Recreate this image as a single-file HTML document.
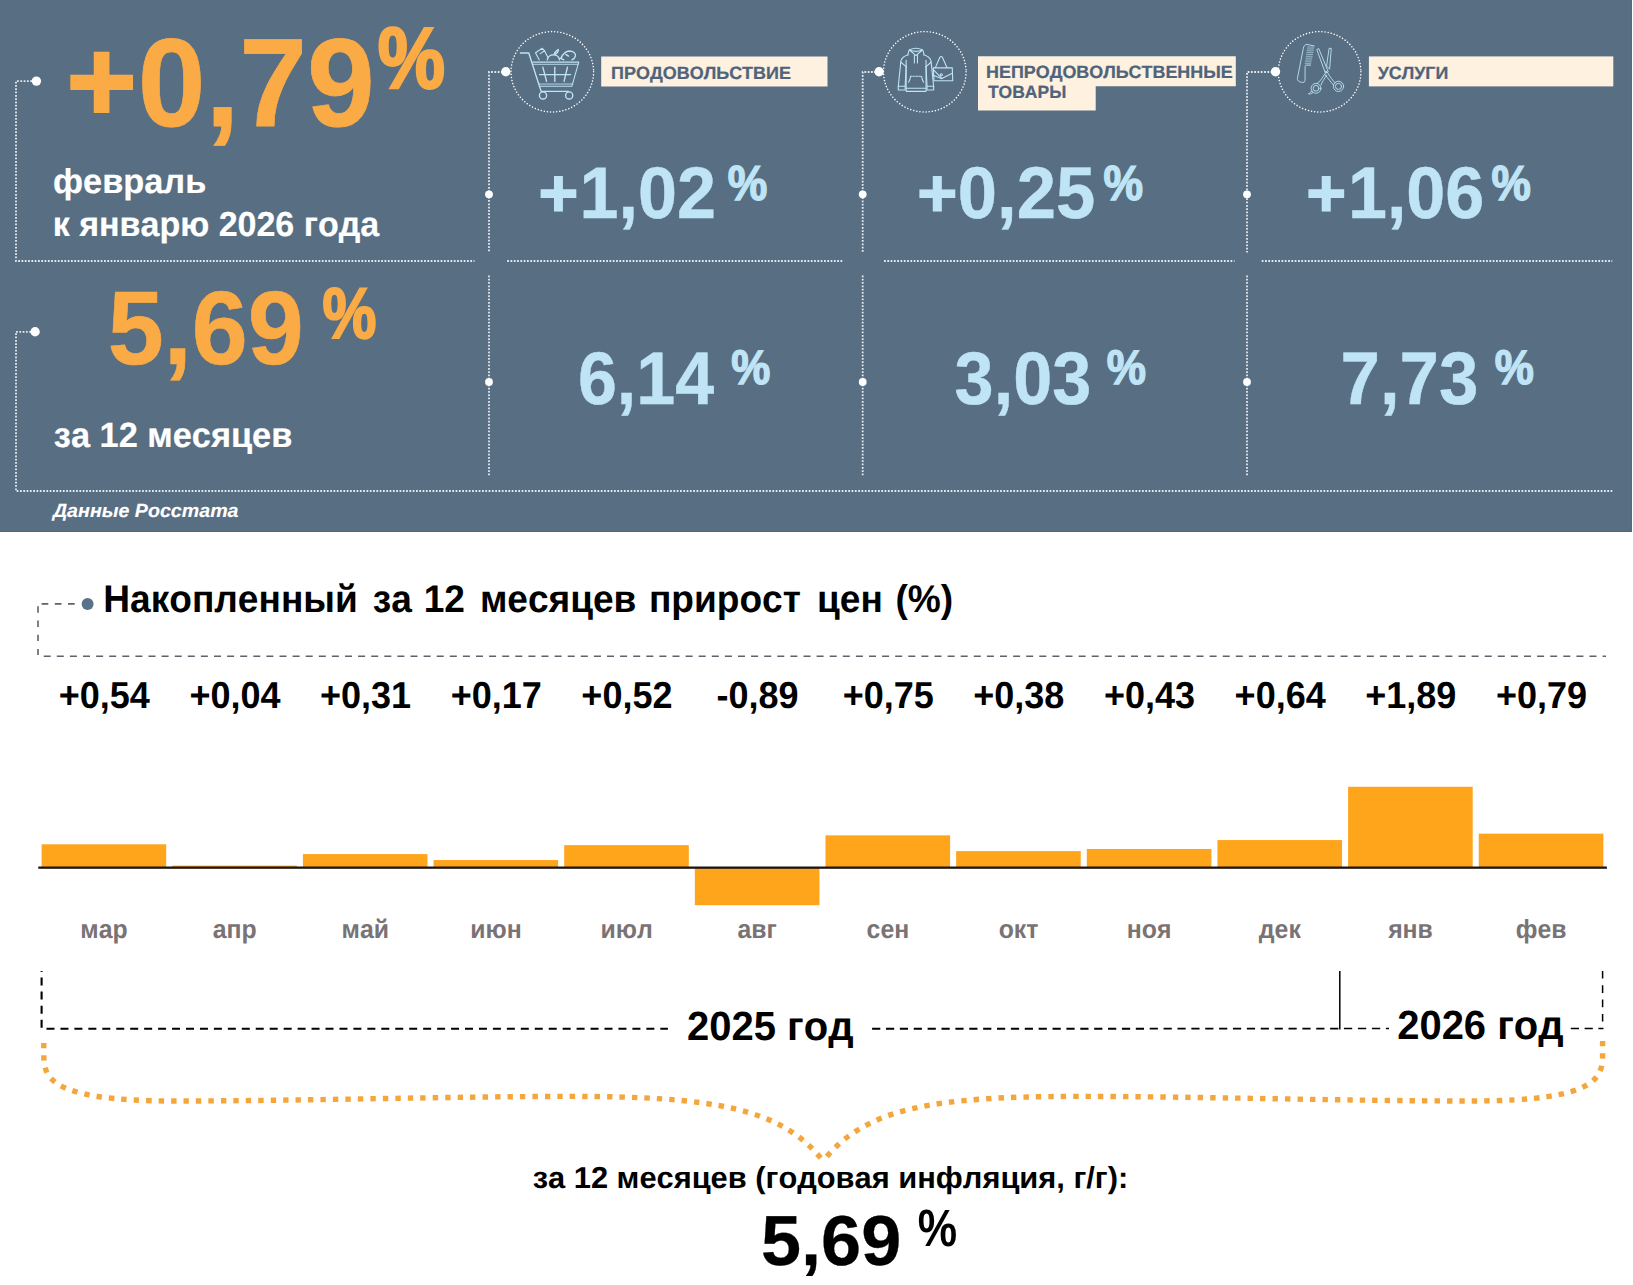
<!DOCTYPE html>
<html lang="ru">
<head>
<meta charset="utf-8">
<title>Инфляция</title>
<style>
*{margin:0;padding:0;box-sizing:border-box}
html,body{width:1633px;height:1285px;background:#fff;overflow:hidden}
body{position:relative}
#top{position:absolute;left:0;top:0;width:1632px;height:532px;background:#576e83;border-bottom:1px solid #536378;border-right:1px solid #56687d}
svg{position:absolute;left:0;top:0}
text{font-family:"Liberation Sans",Arial,sans-serif;font-weight:bold;white-space:pre;text-rendering:geometricPrecision;font-kerning:none}
</style>
</head>
<body>
<div id="top"></div>
<svg width="1633" height="1285" viewBox="0 0 1633 1285" fill="none">
<polyline points="32,81.2 16,81.2 16,261 474.5,261" stroke="#e4ecf3" stroke-width="1.8" stroke-dasharray="1.75 1.55"/>
<circle cx="36.4" cy="81.1" r="4.7" fill="#fff"/>
<polyline points="31,331.8 16,331.8 16,491 1612.3,491" stroke="#e4ecf3" stroke-width="1.8" stroke-dasharray="1.75 1.55"/>
<circle cx="35.1" cy="331.8" r="4.7" fill="#fff"/>
<polyline points="502.8,72 489,72 489,252.5" stroke="#e4ecf3" stroke-width="1.8" stroke-dasharray="1.75 1.55"/>
<polyline points="489,275.5 489,476.5" stroke="#e4ecf3" stroke-width="1.8" stroke-dasharray="1.75 1.55"/>
<circle cx="505.8" cy="71.8" r="4.7" fill="#fff"/>
<circle cx="489" cy="194.3" r="3.9" fill="#fff"/>
<circle cx="489" cy="382" r="3.9" fill="#fff"/>
<ellipse cx="552.3" cy="71.8" rx="41.3" ry="40.2" stroke="#fff" stroke-width="1.55" stroke-dasharray="0.01 3.12" stroke-linecap="round"/>
<polyline points="876.1,72 862.7,72 862.7,252.5" stroke="#e4ecf3" stroke-width="1.8" stroke-dasharray="1.75 1.55"/>
<polyline points="862.7,275.5 862.7,476.5" stroke="#e4ecf3" stroke-width="1.8" stroke-dasharray="1.75 1.55"/>
<circle cx="879.1" cy="71.8" r="4.7" fill="#fff"/>
<circle cx="862.7" cy="194.3" r="3.9" fill="#fff"/>
<circle cx="862.7" cy="382" r="3.9" fill="#fff"/>
<ellipse cx="924.8" cy="71.8" rx="41.3" ry="40.2" stroke="#fff" stroke-width="1.55" stroke-dasharray="0.01 3.12" stroke-linecap="round"/>
<polyline points="1272.5,72 1247,72 1247,252.5" stroke="#e4ecf3" stroke-width="1.8" stroke-dasharray="1.75 1.55"/>
<polyline points="1247,275.5 1247,476.5" stroke="#e4ecf3" stroke-width="1.8" stroke-dasharray="1.75 1.55"/>
<circle cx="1275.5" cy="71.8" r="4.7" fill="#fff"/>
<circle cx="1247" cy="194.3" r="3.9" fill="#fff"/>
<circle cx="1247" cy="382" r="3.9" fill="#fff"/>
<ellipse cx="1319.6" cy="71.8" rx="41.3" ry="40.2" stroke="#fff" stroke-width="1.55" stroke-dasharray="0.01 3.12" stroke-linecap="round"/>
<polyline points="507.2,261 843,261" stroke="#e4ecf3" stroke-width="1.8" stroke-dasharray="1.75 1.55"/>
<polyline points="884,261 1234.5,261" stroke="#e4ecf3" stroke-width="1.8" stroke-dasharray="1.75 1.55"/>
<polyline points="1261.7,261 1612.3,261" stroke="#e4ecf3" stroke-width="1.8" stroke-dasharray="1.75 1.55"/>
<rect x="601.2" y="56.5" width="226.3" height="30" fill="#fef1e0"/>
<path d="M978 56.2H1235.8V86.3H1095.7V110.5H978Z" fill="#fef1e0"/>
<rect x="1368.9" y="56.4" width="244.4" height="30" fill="#fef1e0"/>
<polyline points="41.6,603.9 75,603.9" stroke="#5d636b" stroke-width="1.6" stroke-dasharray="6.7 6.5"/>
<polyline points="38,606.3 38,655" stroke="#5d636b" stroke-width="1.6" stroke-dasharray="6.4 7.8"/>
<polyline points="43.7,656.2 1606,656.2" stroke="#5d636b" stroke-width="1.6" stroke-dasharray="7 6.1"/>
<circle cx="87.6" cy="603.9" r="6" fill="#58728c"/>
<rect x="41.60" y="844.30" width="124.6" height="23.00" fill="#fea51c"/>
<rect x="172.25" y="865.60" width="124.6" height="1.70" fill="#fea51c"/>
<rect x="302.90" y="854.09" width="124.6" height="13.21" fill="#fea51c"/>
<rect x="433.55" y="860.06" width="124.6" height="7.24" fill="#fea51c"/>
<rect x="564.20" y="845.15" width="124.6" height="22.15" fill="#fea51c"/>
<rect x="694.85" y="867.3" width="124.6" height="37.91" fill="#fea51c"/>
<rect x="825.50" y="835.35" width="124.6" height="31.95" fill="#fea51c"/>
<rect x="956.15" y="851.11" width="124.6" height="16.19" fill="#fea51c"/>
<rect x="1086.80" y="848.98" width="124.6" height="18.32" fill="#fea51c"/>
<rect x="1217.45" y="840.04" width="124.6" height="27.26" fill="#fea51c"/>
<rect x="1348.10" y="786.79" width="124.6" height="80.51" fill="#fea51c"/>
<rect x="1478.75" y="833.65" width="124.6" height="33.65" fill="#fea51c"/>
<rect x="38.3" y="866.5" width="1568.6" height="2.3" fill="#1c1410"/>
<polyline points="41.6,971 41.6,971.9" stroke="#000" stroke-width="2.1"/>
<polyline points="41.6,977.5 41.6,1028.2" stroke="#000" stroke-width="2.1" stroke-dasharray="8 6.1"/>
<polyline points="46.5,1028.7 667.9,1028.7" stroke="#000" stroke-width="2.1" stroke-dasharray="8 5.95"/>
<polyline points="872.1,1028.7 1145,1028.7" stroke="#000" stroke-width="2.1" stroke-dasharray="8.2 5.68"/>
<polyline points="1149.7,1028.7 1339.8,1028.7" stroke="#000" stroke-width="1.75" stroke-dasharray="8.2 5.68"/>
<line x1="1339.8" y1="971" x2="1339.8" y2="1029.4" stroke="#000" stroke-width="1.5"/>
<polyline points="1343.9,1028.6 1389,1028.6" stroke="#000" stroke-width="1.5" stroke-dasharray="8.3 5.7"/>
<polyline points="1570.8,1028.5 1603.4,1028.5" stroke="#000" stroke-width="1.5" stroke-dasharray="8.2 5.6"/>
<polyline points="1602.6,971 1602.6,1028.7" stroke="#000" stroke-width="1.5" stroke-dasharray="7.6 6.7"/>
<path d="M43.8 1043 V1052 C43.8 1075.2 42.7 1101 175 1101 C300 1101 450 1096.4 569 1096.4 C712.5 1096.4 781.4 1107.7 823.2 1161" stroke="#f4a63c" stroke-width="5.4" stroke-dasharray="5.4 7.05" stroke-dashoffset="0.2"/>
<path d="M1602.6 1041.1 V1052 C1602.6 1075.2 1603.7 1101 1471.4 1101 C1346.4 1101 1196.4 1096.4 1077.4 1096.4 C933.9 1096.4 865 1107.7 823.2 1161" stroke="#f4a63c" stroke-width="5.4" stroke-dasharray="5.4 7.05" stroke-dashoffset="0.2"/>
<g transform="translate(500,28) scale(0.0685)" stroke="#bfe4f5" stroke-width="20" fill="none" stroke-linecap="round" stroke-linejoin="round">
<path d="M298 365H420L600 925H1000"/>
<path d="M478 498H1150L1050 850H575" stroke-width="15"/>
<path d="M488 530H1138M570 818H1058" stroke-width="13"/>
<path d="M578 680H1030M625 572L680 780M800 572V780M985 572L935 780"/>
<circle cx="628" cy="985" r="52"/><circle cx="1010" cy="985" r="52"/>
<path d="M572 465L518 362L617 296L650 332L588 374M650 332L700 432" stroke-width="16"/>
<path d="M690 465C700 420 740 392 780 392C820 392 860 420 870 465"/>
<path d="M792 388C792 360 812 338 852 315C852 345 836 372 800 386"/>
<path d="M890 445C900 400 950 340 1010 335C1070 335 1110 370 1100 410C1095 435 1070 455 1050 465M880 440L930 465M960 385L1000 410"/>
</g>
<g transform="translate(875,28) scale(0.0685)" stroke="#bfe4f5" stroke-width="16" fill="none" stroke-linecap="round" stroke-linejoin="round">
<path d="M482 392C486 350 492 325 505 318C560 292 635 292 690 318C703 325 710 350 714 392"/>
<path d="M512 332C540 350 575 380 597 402C620 380 655 350 683 332"/>
<path d="M505 320C560 345 635 345 690 320"/>
<path d="M575 400V512M620 400V512"/>
<path d="M482 392C430 410 392 440 378 480L340 850V905H440V850L455 560"/>
<path d="M714 392C766 410 804 440 818 480L856 850V905H760V850L745 560"/>
<path d="M340 850H440M760 850H856"/>
<path d="M455 470V925H745V470"/>
<path d="M455 880H745"/>
<path d="M378 500L455 565M818 500L745 565"/>
<path d="M520 705C515 745 505 770 490 792M680 705C685 745 695 770 710 792"/>
<path d="M522 705H680" stroke-dasharray="22 18"/>
<path d="M850 582H1128L1135 770H862Z"/>
<path d="M850 605L975 738L1130 660"/>
<path d="M850 690L975 740"/>
<path d="M882 578L945 430C955 410 975 410 985 430L1050 578"/>
<circle cx="967" cy="684" r="16"/>
</g>
<g transform="translate(1270,28) scale(0.0685)" stroke="#bfe4f5" stroke-width="13" fill="none" stroke-linecap="round" stroke-linejoin="round">
<path d="M540 240C505 240 492 265 486 300L400 735C395 765 420 785 455 792C490 798 512 790 512 765V562C512 548 520 542 535 542H592"/>
<path d="M540 240L645 262"/>
<path d="M548 278H640M544 305H637M540 332H632M536 359H628M532 386H623M528 413H618M524 440H612M520 467H606M516 494H601M512 521H596" stroke-width="9"/>
<path d="M688 312L712 300L850 640L815 660Z"/>
<path d="M868 298L895 296L870 600L830 560Z"/>
<circle cx="815" cy="640" r="10"/>
<path d="M800 670C760 740 720 790 690 810"/>
<path d="M830 690C790 740 760 790 745 830"/>
<circle cx="672" cy="880" r="72"/><circle cx="672" cy="880" r="42"/>
<path d="M610 920C590 945 575 955 562 962C580 968 600 962 625 945"/>
<path d="M840 650C880 720 920 770 950 800"/>
<path d="M800 680C850 740 900 800 925 830"/>
<circle cx="1000" cy="852" r="75"/><circle cx="1000" cy="852" r="45"/>
</g>

<text transform="translate(611.12,78.68) scale(1.0000,0.9910)" font-size="17.97" fill="#4f647b"  stroke="#4f647b" stroke-width="0.25">ПРОДОВОЛЬСТВИЕ</text>
<text transform="translate(986.03,78.28) scale(1.0000,0.9937)" font-size="17.92" fill="#4f647b"  stroke="#4f647b" stroke-width="0.25">НЕПРОДОВОЛЬСТВЕННЫЕ</text>
<text transform="translate(987.93,98.48) scale(1.0000,1.0102)" font-size="17.49" fill="#4f647b"  stroke="#4f647b" stroke-width="0.24">ТОВАРЫ</text>
<text transform="translate(1377.72,78.78) scale(1.0000,0.9971)" font-size="17.87" fill="#4f647b"  stroke="#4f647b" stroke-width="0.25">УСЛУГИ</text>
<text transform="translate(66.45,120.97) scale(1.0000,0.9659)" font-size="120.24" fill="#fbab45"  stroke="#fbab45" stroke-width="2.40">+</text>
<text transform="translate(137.65,125.60) scale(1.0000,1.0312)" font-size="121.83" fill="#fbab45"  stroke="#fbab45" stroke-width="0.73">0,79</text>
<text transform="translate(377.65,87.72) scale(1.0000,1.1470)" font-size="75.70" fill="#fbab45"  stroke="#fbab45" stroke-width="2.27">%</text>
<text transform="translate(53.03,192.93) scale(1.0000,1.0061)" font-size="34.33" fill="#ffffff"  stroke="#ffffff" stroke-width="0.21">февраль</text>
<text transform="translate(52.74,236.16) scale(1.0000,1.0173)" font-size="34.00" fill="#ffffff"  stroke="#ffffff" stroke-width="0.20">к январю 2026 года</text>
<text transform="translate(107.70,363.56) scale(1.0000,1.0383)" font-size="100.72" fill="#fbab45"  stroke="#fbab45" stroke-width="0.60">5,69</text>
<text transform="translate(322.50,337.66) scale(1.0000,1.1830)" font-size="60.61" fill="#fbab45"  stroke="#fbab45" stroke-width="1.82">%</text>
<text transform="translate(53.81,446.80) scale(1.0000,1.0163)" font-size="34.37" fill="#ffffff"  stroke="#ffffff" stroke-width="0.21">за 12 месяцев</text>
<text transform="translate(52.95,516.64) scale(1.0000,0.9686)" font-size="19.64" fill="#ffffff" font-style="italic"  stroke="#ffffff" stroke-width="0.12">Данные Росстата</text>
<text transform="translate(538.42,216.00) scale(1.0000,0.9824)" font-size="68.27" fill="#bfe4f5"  stroke="#bfe4f5" stroke-width="1.37">+</text>
<text transform="translate(579.60,217.96) scale(1.0000,1.0452)" font-size="70.08" fill="#bfe4f5"  stroke="#bfe4f5" stroke-width="0.42">1,02</text>
<text transform="translate(727.86,200.28) scale(1.0000,1.1033)" font-size="44.48" fill="#bfe4f5"  stroke="#bfe4f5" stroke-width="1.33">%</text>
<text transform="translate(917.20,216.00) scale(1.0000,0.9769)" font-size="68.65" fill="#bfe4f5"  stroke="#bfe4f5" stroke-width="1.37">+</text>
<text transform="translate(957.82,217.96) scale(1.0000,1.0381)" font-size="70.56" fill="#bfe4f5"  stroke="#bfe4f5" stroke-width="0.42">0,25</text>
<text transform="translate(1103.56,200.28) scale(1.0000,1.1033)" font-size="44.48" fill="#bfe4f5"  stroke="#bfe4f5" stroke-width="1.33">%</text>
<text transform="translate(1306.31,216.00) scale(1.0000,0.9797)" font-size="68.46" fill="#bfe4f5"  stroke="#bfe4f5" stroke-width="1.37">+</text>
<text transform="translate(1347.90,217.96) scale(1.0000,1.0450)" font-size="70.10" fill="#bfe4f5"  stroke="#bfe4f5" stroke-width="0.42">1,06</text>
<text transform="translate(1491.56,200.28) scale(1.0000,1.1091)" font-size="44.25" fill="#bfe4f5"  stroke="#bfe4f5" stroke-width="1.33">%</text>
<text transform="translate(577.95,404.35) scale(1.0000,1.0646)" font-size="69.99" fill="#bfe4f5"  stroke="#bfe4f5" stroke-width="0.42">6,14</text>
<text transform="translate(731.27,383.59) scale(1.0000,1.1054)" font-size="43.90" fill="#bfe4f5"  stroke="#bfe4f5" stroke-width="1.32">%</text>
<text transform="translate(954.60,404.35) scale(1.0000,1.0614)" font-size="70.20" fill="#bfe4f5"  stroke="#bfe4f5" stroke-width="0.42">3,03</text>
<text transform="translate(1106.76,383.59) scale(1.0000,1.0996)" font-size="44.13" fill="#bfe4f5"  stroke="#bfe4f5" stroke-width="1.32">%</text>
<text transform="translate(1340.57,404.24) scale(1.0000,1.0504)" font-size="70.79" fill="#bfe4f5"  stroke="#bfe4f5" stroke-width="0.42">7,73</text>
<text transform="translate(1494.76,383.59) scale(1.0000,1.1025)" font-size="44.01" fill="#bfe4f5"  stroke="#bfe4f5" stroke-width="1.32">%</text>
<text transform="translate(103.31,611.60) scale(1.0000,1.0382)" font-size="37.10" fill="#000000" >Накопленный</text>
<text transform="translate(372.86,611.60) scale(1.0000,1.0382)" font-size="37.10" fill="#000000" >за</text>
<text transform="translate(423.69,611.60) scale(1.0000,1.0382)" font-size="37.10" fill="#000000" >12</text>
<text transform="translate(479.88,611.60) scale(1.0000,1.0382)" font-size="37.10" fill="#000000" >месяцев</text>
<text transform="translate(648.92,611.60) scale(1.0000,1.0382)" font-size="37.10" fill="#000000" >прирост</text>
<text transform="translate(816.98,611.60) scale(1.0000,1.0382)" font-size="37.10" fill="#000000" >цен</text>
<text transform="translate(895.50,611.60) scale(1.0000,1.0382)" font-size="37.10" fill="#000000" >(%)</text>
<text transform="translate(104.30,707.53) scale(1.0000,1.0429)" font-size="36.01" fill="#000000" text-anchor="middle" >+0,54</text>
<text transform="translate(104.00,938.15) scale(1.0000,1.0510)" font-size="24.83" fill="#797375" text-anchor="middle" >мар</text>
<text transform="translate(234.95,707.53) scale(1.0000,1.0429)" font-size="36.01" fill="#000000" text-anchor="middle" >+0,04</text>
<text transform="translate(234.65,938.15) scale(1.0000,1.0510)" font-size="24.83" fill="#797375" text-anchor="middle" >апр</text>
<text transform="translate(365.60,707.53) scale(1.0000,1.0429)" font-size="36.01" fill="#000000" text-anchor="middle" >+0,31</text>
<text transform="translate(365.30,938.15) scale(1.0000,1.0510)" font-size="24.83" fill="#797375" text-anchor="middle" >май</text>
<text transform="translate(496.25,707.53) scale(1.0000,1.0429)" font-size="36.01" fill="#000000" text-anchor="middle" >+0,17</text>
<text transform="translate(495.95,938.15) scale(1.0000,1.0510)" font-size="24.83" fill="#797375" text-anchor="middle" >июн</text>
<text transform="translate(626.90,707.53) scale(1.0000,1.0429)" font-size="36.01" fill="#000000" text-anchor="middle" >+0,52</text>
<text transform="translate(626.60,938.15) scale(1.0000,1.0510)" font-size="24.83" fill="#797375" text-anchor="middle" >июл</text>
<text transform="translate(757.55,707.53) scale(1.0000,1.0429)" font-size="36.01" fill="#000000" text-anchor="middle" >-0,89</text>
<text transform="translate(757.25,938.15) scale(1.0000,1.0510)" font-size="24.83" fill="#797375" text-anchor="middle" >авг</text>
<text transform="translate(888.20,707.53) scale(1.0000,1.0429)" font-size="36.01" fill="#000000" text-anchor="middle" >+0,75</text>
<text transform="translate(887.90,938.15) scale(1.0000,1.0510)" font-size="24.83" fill="#797375" text-anchor="middle" >сен</text>
<text transform="translate(1018.85,707.53) scale(1.0000,1.0429)" font-size="36.01" fill="#000000" text-anchor="middle" >+0,38</text>
<text transform="translate(1018.55,938.15) scale(1.0000,1.0510)" font-size="24.83" fill="#797375" text-anchor="middle" >окт</text>
<text transform="translate(1149.50,707.53) scale(1.0000,1.0429)" font-size="36.01" fill="#000000" text-anchor="middle" >+0,43</text>
<text transform="translate(1149.20,938.15) scale(1.0000,1.0510)" font-size="24.83" fill="#797375" text-anchor="middle" >ноя</text>
<text transform="translate(1280.15,707.53) scale(1.0000,1.0429)" font-size="36.01" fill="#000000" text-anchor="middle" >+0,64</text>
<text transform="translate(1279.85,938.15) scale(1.0000,1.0510)" font-size="24.83" fill="#797375" text-anchor="middle" >дек</text>
<text transform="translate(1410.80,707.53) scale(1.0000,1.0429)" font-size="36.01" fill="#000000" text-anchor="middle" >+1,89</text>
<text transform="translate(1410.50,938.15) scale(1.0000,1.0510)" font-size="24.83" fill="#797375" text-anchor="middle" >янв</text>
<text transform="translate(1541.45,707.53) scale(1.0000,1.0429)" font-size="36.01" fill="#000000" text-anchor="middle" >+0,79</text>
<text transform="translate(1541.15,938.15) scale(1.0000,1.0510)" font-size="24.83" fill="#797375" text-anchor="middle" >фев</text>
<text transform="translate(687.01,1039.90) scale(1.0000,1.0166)" font-size="40.01" fill="#000000" >2025 год</text>
<text transform="translate(1397.21,1039.20) scale(1.0000,1.0179)" font-size="39.96" fill="#000000" >2026 год</text>
<text transform="translate(532.70,1187.70) scale(1.0000,0.9844)" font-size="30.84" fill="#000000" >за 12 месяцев (годовая инфляция, г/г):</text>
<text transform="translate(761.03,1264.67) scale(1.0000,0.9832)" font-size="72.04" fill="#000000"  stroke="#000000" stroke-width="0.29">5,69</text>
<text transform="translate(917.70,1246.29) scale(1.0000,1.1844)" font-size="44.28" fill="#000000" >%</text>
</svg>
</body>
</html>
